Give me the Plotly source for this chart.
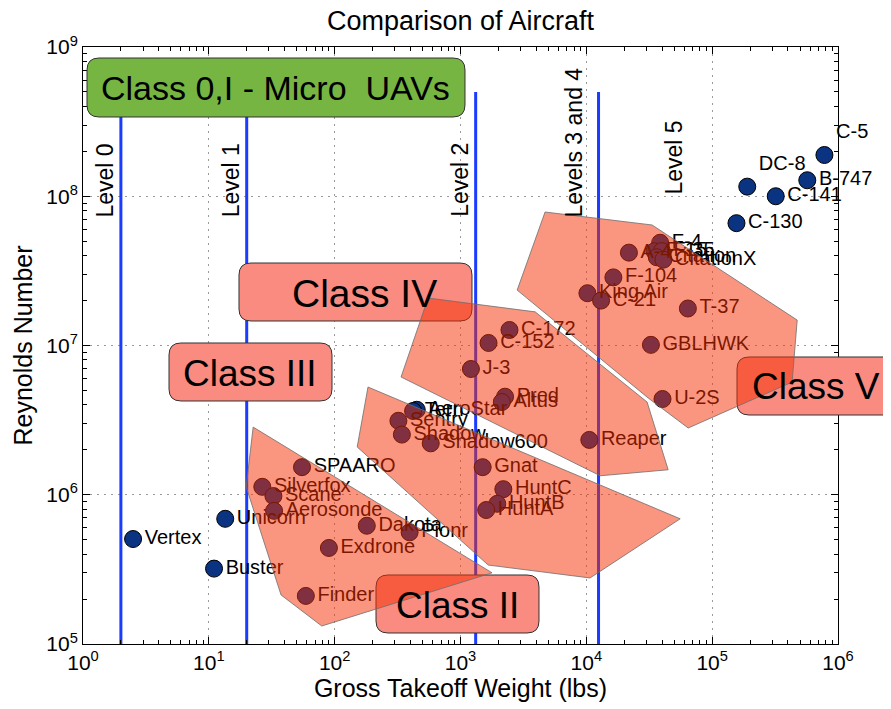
import math
import plotly.graph_objects as go

FONT = "Liberation Sans, Arial, Helvetica, sans-serif"

# ---------------- data ----------------
names = ["Vertex", "Unicorn", "Buster", "C-5", "DC-8", "B-747", "C-141", "C-130",
         "SPAARO", "Silverfox", "Scane", "Aerosonde", "Dakota", "Pionr", "Exdrone", "Finder",
         "Sentry", "AeroStar", "Tern", "Shadow", "Shadow600", "Gnat", "HuntC", "HuntB", "HuntA",
         "J-3", "C-152", "C-172", "Pred", "Altus", "Reaper",
         "King Air", "C-21", "F-104", "A-4", "F-4", "F-15", "F-35", "Citation", "CitationX",
         "T-37", "GBLHWK", "U-2S"]
weight_lbs = [2.5, 13.5, 11, 7.8e5, 1.9e5, 5.7e5, 3.2e5, 1.56e5,
              55, 26.6, 32.6, 33, 180, 394, 90, 59,
              321, 449, 420, 342, 580, 1500, 2190, 1960, 1600,
              1210, 1670, 2450, 2260, 2130, 10560,
              10200, 13100, 16400, 21800, 38600, 34800, 39800, 36300, 41000,
              64100, 32600, 40300]
reynolds = [5.05e5, 6.9e5, 3.2e5, 1.89e8, 1.16e8, 1.28e8, 1.0e8, 6.6e7,
            1.53e6, 1.13e6, 9.8e5, 7.8e5, 6.2e5, 5.6e5, 4.4e5, 2.1e5,
            3.13e6, 3.71e6, 3.64e6, 2.53e6, 2.21e6, 1.53e6, 1.09e6, 8.7e5, 7.9e5,
            6.96e6, 1.04e7, 1.27e7, 4.54e6, 4.18e6, 2.33e6,
            2.24e7, 2.0e7, 2.86e7, 4.19e7, 4.88e7, 4.28e7, 4.29e7, 3.9e7, 3.76e7,
            1.77e7, 1.01e7, 4.38e6]
labels_above = ["C-5", "DC-8"]

level_x = [2, 20, 1320, 12500]
level_bottom = 1e5
level_top = 5e8

level_labels = ["Level 0", "Level 1", "Level 2", "Levels 3 and 4", "Level 5"]
level_label_x = [1.5, 15, 1000, 8000, 50000]
level_label_y = [7e7, 7e7, 7e7, 7e7, 1e8]

# class regions (gross weight, Reynolds number)
region_II_x = [22.5, 1780, 79, 37.5, 19.8]
region_II_y = [2.84e6, 3.0e5, 1.32e5, 2.13e5, 1.13e6]
region_III_x = [184, 55700, 10700, 1660, 151]
region_III_y = [5.27e6, 6.9e5, 2.77e5, 3.38e5, 2.09e6]
region_IV_x = [553, 3920, 30400, 44700, 12900, 337]
region_IV_y = [2.08e7, 1.68e7, 4.18e6, 1.47e6, 1.34e6, 6.15e6]
region_V_x = [4700, 33300, 4.74e5, 4.32e5, 64500, 31000, 2820]
region_V_y = [7.84e7, 6.42e7, 1.48e7, 5.69e6, 2.8e6, 4.45e6, 2.35e7]

class_labels = ["Class 0,I - Micro  UAVs", "Class II", "Class III", "Class IV", "Class V"]

x_tick_vals = [1, 10, 100, 1000, 1e4, 1e5, 1e6]
x_tick_text = ["10<sup>0</sup>", "10<sup>1</sup>", "10<sup>2</sup>", "10<sup>3</sup>",
               "10<sup>4</sup>", "10<sup>5</sup>", "10<sup>6</sup>"]
y_tick_vals = [1e5, 1e6, 1e7, 1e8, 1e9]
y_tick_text = ["10<sup>5</sup>", "10<sup>6</sup>", "10<sup>7</sup>", "10<sup>8</sup>", "10<sup>9</sup>"]

# ---------------- figure ----------------
W, H = 891, 709
OFF = 8  # page offset of the figure inside the window
# plot area in window pixels
PX0, PX1, PY0, PY1 = 83, 838, 47, 644
ML, MT = PX0 - OFF, PY0 - OFF
MR = W + OFF - PX1
MB = H + OFF - PY1
PW, PH = PX1 - PX0, PY1 - PY0

fig = go.Figure()

# level lines
lx, ly = [], []
for v in level_x:
    lx += [v, v, None]
    ly += [level_bottom, level_top, None]
fig.add_trace(go.Scatter(x=lx, y=ly, mode="lines",
                         line=dict(color="#1a3cff", width=3),
                         hoverinfo="skip", showlegend=False))

# aircraft
positions = ["top right" if n in labels_above else "middle right" for n in names]
fig.add_trace(go.Scatter(
    x=weight_lbs, y=reynolds, mode="markers+text", text=names,
    textposition=positions, cliponaxis=False,
    textfont=dict(family=FONT, size=20, color="black"),
    marker=dict(size=17, color="#0a3382", line=dict(color="black", width=1)),
    showlegend=False))


def px2paper(px, py):
    return (px - PX0) / PW, (PY1 - py) / PH


def rounded_rect(px0, py0, px1, py1, r=12):
    x0, y1 = px2paper(px0, py0)
    x1, y0 = px2paper(px1, py1)
    rx, ry = r / PW, r / PH
    f = lambda v: f"{v:.5f}"
    return (f"M {f(x0+rx)},{f(y1)} L {f(x1-rx)},{f(y1)} Q {f(x1)},{f(y1)} {f(x1)},{f(y1-ry)} "
            f"L {f(x1)},{f(y0+ry)} Q {f(x1)},{f(y0)} {f(x1-rx)},{f(y0)} "
            f"L {f(x0+rx)},{f(y0)} Q {f(x0)},{f(y0)} {f(x0)},{f(y0+ry)} "
            f"L {f(x0)},{f(y1-ry)} Q {f(x0)},{f(y1)} {f(x0+rx)},{f(y1)} Z")


# class boxes (window-pixel geometry of the label boxes) and text centres
box_geom = [(87, 58, 465, 117), (376, 575, 539, 633), (169, 343, 332, 401),
            (239, 263, 472, 321), (737, 357, 900, 415)]
text_cx = [275, 457, 250, 364, 816]
box_fill = ["#77b543", "#f98b80", "#f98b80", "#f98b80", "#f98b80"]
box_font = [34, 37, 37, 39, 37]

shapes = []
annotations = []
for lab, g, tcx, fc, fs in zip(class_labels, box_geom, text_cx, box_fill, box_font):
    shapes.append(dict(type="path", xref="paper", yref="paper", path=rounded_rect(*g),
                       fillcolor=fc, line=dict(color="#333333", width=1), layer="above"))
    cx, cy = px2paper(tcx, (g[1] + g[3]) / 2 + 1)
    annotations.append(dict(x=cx, y=cy, xref="paper", yref="paper", text=lab, showarrow=False,
                            font=dict(family=FONT, size=fs, color="black"),
                            xanchor="center", yanchor="middle"))


def poly_path(xs, ys):
    pts = [f"{x:.4f},{y:.4f}" for x, y in zip(xs, ys)]
    return "M " + " L ".join(pts) + " Z"


for xs, ys in [(region_II_x, region_II_y), (region_III_x, region_III_y),
               (region_IV_x, region_IV_y), (region_V_x, region_V_y)]:
    shapes.append(dict(type="path", xref="x", yref="y", path=poly_path(xs, ys),
                       fillcolor="rgba(245,45,0,0.5)", line=dict(color="rgba(110,110,110,0.8)", width=1),
                       layer="above"))

for lab, x, y in zip(level_labels, level_label_x, level_label_y):
    annotations.append(dict(x=math.log10(x), y=math.log10(y), xref="x", yref="y", text=lab,
                            showarrow=False, textangle=-90, xanchor="center", yanchor="bottom",
                            font=dict(family=FONT, size=23, color="black")))

x_minor = [m * 10 ** k for k in range(0, 6) for m in range(2, 10)]
y_minor = [m * 10 ** k for k in range(5, 9) for m in range(2, 10)]

axis_common = dict(type="log", showline=True, linecolor="black", linewidth=1, mirror="ticks",
                   ticks="inside", ticklen=7, tickcolor="black", tickmode="array",
                   showgrid=True, gridcolor="#9a9a9a", griddash="2px,5px", gridwidth=1,
                   zeroline=False, tickfont=dict(family=FONT, size=21, color="black"))

fig.update_layout(
    width=W, height=H,
    margin=dict(l=ML, r=MR, t=MT, b=MB),
    paper_bgcolor="white", plot_bgcolor="white",
    title=dict(text="Comparison of Aircraft", x=0.5, xref="paper", xanchor="center",
               y=1 - (21 - OFF) / H, yref="container", yanchor="middle",
               font=dict(family=FONT, size=27, color="black")),
    xaxis=dict(range=[0, 6], tickvals=x_tick_vals, ticktext=x_tick_text,
               title=dict(text="Gross Takeoff Weight (lbs)", standoff=0,
                          font=dict(family=FONT, size=25, color="black")),
               minor=dict(tickmode="array", tickvals=x_minor, ticks="inside", ticklen=4,
                          tickcolor="black", showgrid=False),
               **axis_common),
    yaxis=dict(range=[5, 9], tickvals=y_tick_vals, ticktext=y_tick_text,
               title=dict(text="Reynolds Number", standoff=6,
                          font=dict(family=FONT, size=25, color="black")),
               minor=dict(tickmode="array", tickvals=y_minor, ticks="inside", ticklen=4,
                          tickcolor="black", showgrid=False),
               **axis_common),
    shapes=shapes, annotations=annotations, showlegend=False,
)

fig.write_html("out.html")
